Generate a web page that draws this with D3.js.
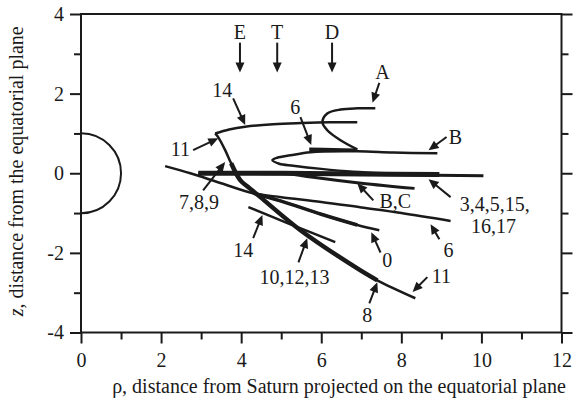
<!DOCTYPE html>
<html>
<head>
<meta charset="utf-8">
<script src="https://cdn.jsdelivr.net/npm/d3@7"></script>
<style>
  body { margin: 0; background: #fff; }
  svg text { font-family: 'Liberation Serif', 'Times New Roman', Times, serif !important; fill: #1a1a1a; }
</style>
</head>
<body>
<div id="chart"></div>
<script>
// axis ticks
var xMajor = [0, 2, 4, 6, 8, 10, 12];
var xMinor = [1, 3, 5, 7, 9, 11];
var zMajor = [-4, -2, 0, 2, 4];
var zMinor = [-3, -1, 1, 3];

// trajectories, [rho, z]
var curve14Top = [[3.35, 1.0], [3.7, 1.1], [4.1, 1.17], [4.8, 1.23], [5.5, 1.26], [6.2, 1.28], [6.9, 1.28]];
var curveA = [[7.35, 1.63], [6.9, 1.63], [6.48, 1.6], [6.15, 1.5], [6.03, 1.28], [6.15, 1.08], [6.48, 0.83], [6.9, 0.6]];
var curveB = [[8.9, 0.5], [7.8, 0.52], [6.9, 0.55], [5.73, 0.53], [5.23, 0.45], [4.9, 0.39], [4.78, 0.33], [4.95, 0.24], [5.3, 0.19], [6.0, 0.11], [6.8, 0.04], [7.6, 0.0]];
var curveC = [[5.0, 0.02], [5.8, -0.1], [7.0, -0.25], [8.33, -0.38]];
var seg6Top = [[5.7, 0.6], [6.3, 0.59], [6.9, 0.58]];
var line345 = [[2.93, 0.0], [5.0, 0.0], [7.0, -0.02], [8.95, -0.03]];
var line1517 = [[2.93, 0.0], [6.0, -0.02], [8.0, -0.04], [10.05, -0.06]];
var line6 = [[2.1, 0.18], [2.73, 0.0], [3.5, -0.25], [4.3, -0.5], [5.0, -0.6], [6.0, -0.72], [7.0, -0.86], [8.0, -1.0], [9.23, -1.2]];
var line0 = [[4.3, -0.5], [5.0, -0.7], [6.0, -1.03], [6.9, -1.3], [7.45, -1.43]];
var line0Thick = [[4.3, -0.5], [5.0, -0.7], [6.0, -1.03], [6.9, -1.3]];
var line14Low = [[4.18, -0.85], [5.2, -1.27], [6.35, -1.73]];
var curve11 = [[3.35, 1.0], [3.43, 0.9], [3.6, 0.58], [3.75, 0.25], [3.98, -0.18], [4.18, -0.35], [4.48, -0.6], [5.48, -1.43], [6.9, -2.39], [7.4, -2.69], [8.35, -3.14]];
var line8 = [[3.75, 0.25], [3.98, -0.18], [4.18, -0.35], [4.48, -0.6], [5.48, -1.43], [6.9, -2.39], [7.4, -2.69]];

// labels: text, x, z ; arrows: from [x,z] to [x,z]
var labelText = ["E", "T", "D", "A", "6", "B", "B,C", "3,4,5,15,", "16,17", "6", "0", "11", "8", "10,12,13", "14", "7,8,9", "11", "14"];
var labelPos = [[3.97, 3.55], [4.9, 3.55], [6.27, 3.55], [7.53, 2.54], [5.35, 1.66], [9.35, 0.91], [7.85, -0.7], [10.33, -0.77], [10.3, -1.33], [9.18, -1.93], [7.65, -2.18], [9.0, -2.59], [7.15, -3.56], [5.33, -2.6], [4.05, -1.93], [2.95, -0.72], [2.48, 0.6], [3.53, 2.09]];
var arrowFrom = [[3.97, 3.28], [4.9, 3.28], [6.27, 3.28], [7.45, 2.27], [5.48, 1.41], [9.13, 0.91], [7.3, -0.68], [9.23, -0.6], [8.95, -1.66], [7.48, -1.99], [8.65, -2.61], [7.2, -3.27], [5.43, -2.24], [4.3, -1.63], [3.05, -0.43], [2.8, 0.58], [3.8, 1.88]];
var arrowTo = [[3.97, 2.53], [4.9, 2.53], [6.27, 2.53], [7.28, 1.77], [5.75, 0.71], [8.68, 0.58], [6.9, -0.25], [8.68, -0.15], [8.73, -1.28], [7.25, -1.48], [8.28, -2.98], [7.4, -2.74], [5.65, -1.63], [4.53, -1.05], [3.6, 0.28], [3.43, 0.88], [4.1, 1.21]];

var W = 587, H = 409;
var FONT = "'Liberation Serif', 'Times New Roman', Times, serif";
var svg = d3.select("#chart").append("svg")
  .attr("width", W)
  .attr("height", H)
  .attr("font-family", FONT);

var x = d3.scaleLinear().domain([0, 12]).range([81, 561.5]);
var y = d3.scaleLinear().domain([-4, 4]).range([332.5, 14]);
var fmt = function (d) { return String(d); };

// frame
svg.append("rect")
  .attr("x", x(0)).attr("y", y(4))
  .attr("width", x(12) - x(0)).attr("height", y(-4) - y(4))
  .attr("fill", "none").attr("stroke", "#1a1a1a").attr("stroke-width", 2);

// Add X axis
svg.append("g").attr("transform", "translate(0," + y(-4) + ")")
  .call(d3.axisBottom(x).tickValues(xMajor).tickSize(11).tickSizeOuter(0).tickPadding(9).tickFormat(fmt));
svg.append("g").attr("transform", "translate(0," + y(-4) + ")")
  .call(d3.axisBottom(x).tickValues(xMinor).tickSize(7).tickSizeOuter(0).tickFormat(""));

// Add Y axis
svg.append("g").attr("transform", "translate(" + x(0) + ",0)")
  .call(d3.axisLeft(y).tickValues(zMajor).tickSize(11).tickSizeOuter(0).tickPadding(6).tickFormat(fmt));
svg.append("g").attr("transform", "translate(" + x(0) + ",0)")
  .call(d3.axisLeft(y).tickValues(zMinor).tickSize(7).tickSizeOuter(0).tickFormat(""));

// right axis ticks
svg.append("g").attr("transform", "translate(" + x(12) + ",0)")
  .call(d3.axisRight(y).tickValues(zMajor).tickSize(11).tickSizeOuter(0).tickFormat(""));
svg.append("g").attr("transform", "translate(" + x(12) + ",0)")
  .call(d3.axisRight(y).tickValues(zMinor).tickSize(7).tickSizeOuter(0).tickFormat(""));

svg.selectAll("g").attr("font-family", FONT).attr("font-size", 20);
svg.selectAll(".domain").remove();
svg.selectAll(".tick line").attr("stroke", "#1a1a1a").attr("stroke-width", 2);
svg.selectAll(".tick text").attr("fill", "#1a1a1a");

// axis labels
svg.append("text")
  .attr("transform", "translate(" + 339 + "," + 393 + ")")
  .attr("text-anchor", "middle")
  .attr("font-size", 20)
  .text("ρ, distance from Saturn projected on the equatorial plane");

var yl = svg.append("text")
  .attr("transform", "translate(" + 23 + "," + y(0.05) + ") rotate(-90)")
  .attr("text-anchor", "middle")
  .attr("font-size", 20);
yl.append("tspan").attr("font-style", "italic").text("z");
yl.append("tspan").text(", distance from the equatorial plane");

// Saturn
var p = d3.path();
p.arc(x(0), y(0), x(1) - x(0), -Math.PI / 2, Math.PI / 2);
svg.append("path").attr("d", p.toString())
  .attr("fill", "none").attr("stroke", "#1a1a1a").attr("stroke-width", 2);

// trajectories
var line = d3.line()
  .x(function (d) { return x(d[0]); })
  .y(function (d) { return y(d[1]); })
  .curve(d3.curveCatmullRom);

var tracks = [
  { pts: curve14Top, w: 2.5 },
  { pts: curveA, w: 2.5 },
  { pts: curveB, w: 2.5 },
  { pts: curveC, w: 3 },
  { pts: seg6Top, w: 3.5 },
  { pts: line1517, w: 3 },
  { pts: line345, w: 5 },
  { pts: line6, w: 2.5 },
  { pts: line0, w: 2.5 },
  { pts: line0Thick, w: 3.5 },
  { pts: line14Low, w: 2.5 },
  { pts: curve11, w: 2.5 },
  { pts: line8, w: 4.5 }
];
svg.selectAll(".track")
  .data(tracks)
  .enter()
  .append("path")
  .attr("class", "track")
  .attr("d", function (d) { return line(d.pts); })
  .attr("fill", "none")
  .attr("stroke", "#1a1a1a")
  .attr("stroke-width", function (d) { return d.w; })
  .attr("stroke-linecap", "butt");

// arrows
var arrows = arrowFrom.map(function (f, i) { return { from: f, to: arrowTo[i] }; });
var ag = svg.selectAll(".arrow").data(arrows).enter().append("g").attr("class", "arrow");
ag.each(function (d) {
  var x1 = x(d.from[0]), y1 = y(d.from[1]), x2 = x(d.to[0]), y2 = y(d.to[1]);
  var dx = x2 - x1, dy = y2 - y1, len = Math.sqrt(dx * dx + dy * dy);
  var ux = dx / len, uy = dy / len;
  var hl = 10, hw = 4.5;
  var bx = x2 - ux * hl, by = y2 - uy * hl;
  var g = d3.select(this);
  g.append("line")
    .attr("x1", x1).attr("y1", y1).attr("x2", bx + ux * 2).attr("y2", by + uy * 2)
    .attr("stroke", "#1a1a1a").attr("stroke-width", 2);
  g.append("path")
    .attr("d", "M" + x2 + "," + y2 + "L" + (bx - uy * hw) + "," + (by + ux * hw) + "L" + (bx + uy * hw) + "," + (by - ux * hw) + "Z")
    .attr("fill", "#1a1a1a");
});

// labels
svg.selectAll(".lab")
  .data(labelText)
  .enter()
  .append("text")
  .attr("class", "lab")
  .attr("x", function (d, i) { return x(labelPos[i][0]); })
  .attr("y", function (d, i) { return y(labelPos[i][1]); })
  .attr("dy", "0.35em")
  .attr("text-anchor", "middle")
  .attr("font-size", 20)
  .text(function (d) { return d; });
</script>
</body>
</html>
